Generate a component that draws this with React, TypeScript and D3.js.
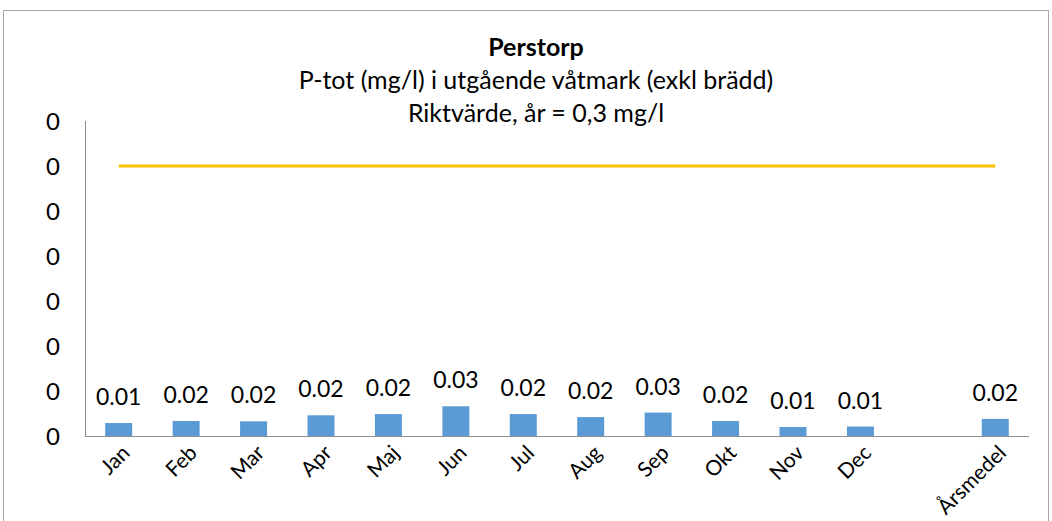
import React from 'react';
import * as d3 from 'd3';

const months = ["Jan", "Feb", "Mar", "Apr", "Maj", "Jun", "Jul", "Aug", "Sep", "Okt", "Nov", "Dec"];
const monthValues = [0.0144, 0.0167, 0.0163, 0.023, 0.0244, 0.033, 0.0244, 0.021, 0.026, 0.0167, 0.01, 0.0105];
const annualLabel = "Årsmedel";
const annualValue = 0.019;
const riktvarde = 0.3;
const yTicks = [0, 0.05, 0.1, 0.15, 0.2, 0.25, 0.3, 0.35];

const titleLines = ["Perstorp", "P-tot (mg/l) i utgående våtmark (exkl brädd)", "Riktvärde, år = 0,3 mg/l"];

const W = 1052;
const H = 521;
const FONT = "Lato, 'Open Sans', sans-serif";

export default function App() {
  const bars = [
    ...months.map((m, i) => ({ cat: m, value: monthValues[i] })),
    { cat: annualLabel, value: annualValue },
  ];
  const domain = [...months, "__gap", annualLabel];

  const x = d3.scaleBand<string>().domain(domain).range([85, 1029]).paddingInner(0.6).paddingOuter(0.3);
  const y = d3.scaleLinear().domain([0, 0.35]).range([436, 121]);
  const fmtTick = d3.format(".0f");
  const fmtVal = d3.format(".2f");

  const cx = (c: string) => (x(c) ?? 0) + x.bandwidth() / 2;

  return (
    <>
      <style>{`body{margin:0}`}</style>
      <svg width={W} height={H} style={{ display: 'block', fontFamily: FONT }}>
        <rect x={3.5} y={10.5} width={1045} height={530} fill="#fff" stroke="#A6A6A6" />

        {titleLines.map((t, i) => (
          <text key={i} x={536} y={56 + i * 33} textAnchor="middle" fontSize={25}
            fontWeight={i === 0 ? 'bold' : 'normal'} fill="#000">{t}</text>
        ))}

        {/* y-axis */}
        <line x1={85.5} x2={85.5} y1={y(0.35)} y2={y(0)} stroke="#8C8C8C" />
        {yTicks.map((t, i) => (
          <text key={i} x={60} y={y(t)} dy="0.36em" textAnchor="end" fontSize={24} fill="#000">{fmtTick(t)}</text>
        ))}

        {/* bars */}
        {bars.map((d, i) => (
          <rect key={i} x={x(d.cat)} y={y(d.value)} width={x.bandwidth()} height={y(0) - y(d.value)}
            fill="#5B9BD5" />
        ))}
        {bars.map((d, i) => (
          <text key={'l' + i} x={cx(d.cat)} y={y(d.value) - 18} textAnchor="middle" fontSize={23} fill="#000">
            {fmtVal(d.value)}
          </text>
        ))}

        {/* x-axis */}
        <line x1={85} x2={1029} y1={436.5} y2={436.5} stroke="#8C8C8C" />
        {bars.map((d, i) => (
          <text key={'x' + i} transform={`translate(${cx(d.cat) + 7},${449}) rotate(-45)`}
            textAnchor="end" dy="0.35em" fontSize={21} fill="#000">{d.cat}</text>
        ))}

        {/* target line */}
        <line x1={cx(months[0])} x2={cx(annualLabel)} y1={y(riktvarde)} y2={y(riktvarde)}
          stroke="#FFC000" strokeWidth={3} />
      </svg>
    </>
  );
}
